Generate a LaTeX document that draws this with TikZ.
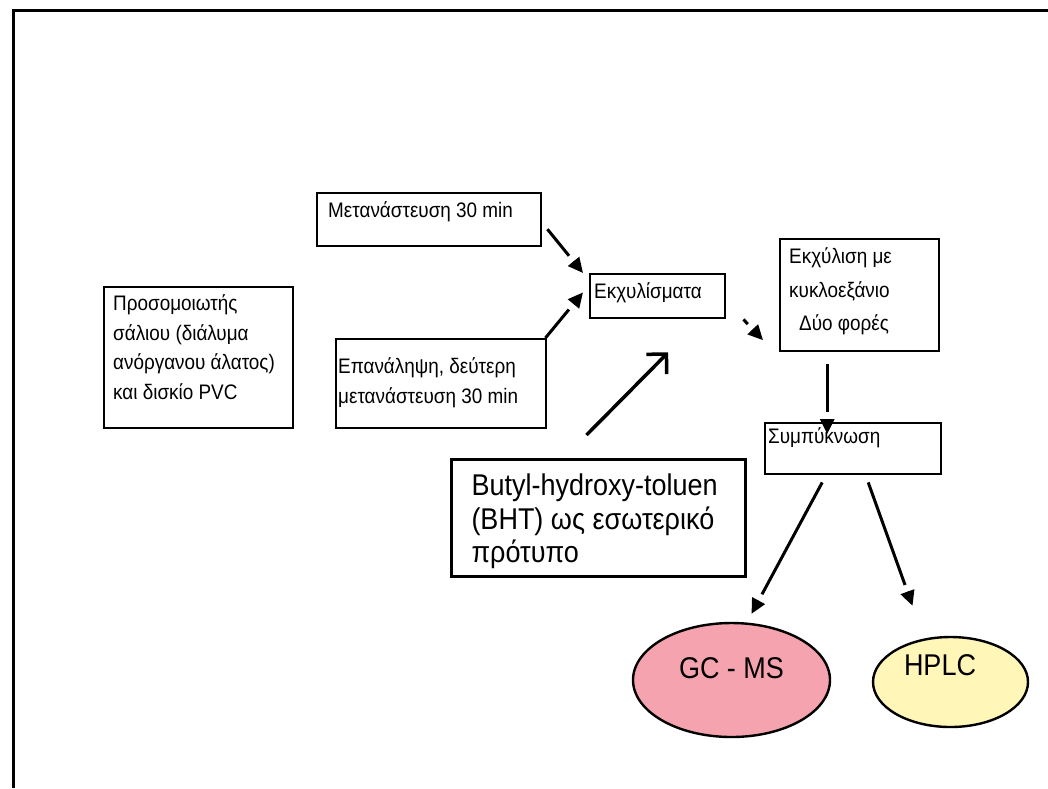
\documentclass[tikz,border=0pt]{standalone}
\usepackage{fontspec}
\setmainfont{Liberation Sans}[FakeStretch=0.9]
\usetikzlibrary{arrows.meta,shapes.geometric}
\definecolor{gcpink}{RGB}{245,163,174}
\definecolor{hplcyellow}{RGB}{255,246,184}
% box text: width, height, left pad, top pad, text
\newcommand{\boxtext}[5]{\hspace*{#3}\parbox[c][#2][t]{\dimexpr#1-#3\relax}{\vspace*{#4}\strut#5}}
\begin{document}
\begin{tikzpicture}[
		x=1pt,y=-1pt,
		box/.style={draw,line width=2.4pt,anchor=north west,inner sep=0pt,font=\fontsize{21}{29.5}\selectfont},
		oval/.style={draw,line width=2.4pt,ellipse,inner sep=0pt,font=\fontsize{30}{32}\selectfont},
		arr/.style={line width=3pt,-{Rectangle[length=7pt,width=6pt,color=white] Triangle[length=15pt,width=14pt]}},
		bigarr/.style={line width=3.5pt,-{Straight Barb[angle=90:20pt]}}
		]
		\useasboundingbox (0,0) rectangle (1048,788);
		\draw[line width=3pt] (13,788) -- (13,10) -- (1048,10);
		\node[box] (sim) at (103,286) {\boxtext{189pt}{141pt}{9pt}{3pt}{Προσομοιωτής\\σάλιου (διάλυμα\\ανόργανου άλατος)\\και δισκίο PVC}};
		\node[box] (mig1) at (316,192) {\boxtext{224pt}{53pt}{11pt}{4pt}{Μετανάστευση 30 min}};
		\node[box] (mig2) at (335,338) {\boxtext{210pt}{89pt}{2pt}{14pt}{Επανάληψη, δεύτερη\\μετανάστευση 30 min}};
		\node[box] (extr) at (589,273) {\boxtext{135pt}{44pt}{4pt}{4pt}{Εκχυλίσματα}};
		\node[box] (ekx) at (779,238) {\boxtext{159pt}{112pt}{9pt}{1pt}{\fontsize{21}{33.5}\selectfont\strut Εκχύλιση με\\κυκλοεξάνιο\\\hspace*{10pt}Δύο φορές}};
		\node[box] (symp) at (764,422) {\boxtext{176pt}{51pt}{3pt}{0pt}{Συμπύκνωση}};
		\node[box,line width=3pt,font=\fontsize{30}{33.5}\selectfont] (bht) at (450,458) {\boxtext{294pt}{117pt}{20pt}{13pt}{Butyl-hydroxy-toluen\\(BHT) ως εσωτερικό\\πρότυπο}};
		\node[oval,fill=gcpink,minimum width=197pt,minimum height=114pt] (gc) at (731.5,680) {\raisebox{2pt}[0pt][0pt]{GC - MS}};
		\node[oval,fill=hplcyellow,minimum width=155pt,minimum height=90pt] (hplc) at (950.5,682) {\raisebox{7pt}[0pt][0pt]{HPLC}\hspace*{21pt}};
		\draw[arr] ([xshift=5pt,yshift=-9.5pt]mig1.east) -- ([xshift=-6pt]extr.north west);
		\draw[arr] ([xshift=-2pt]mig2.north east) -- ([xshift=-6pt,yshift=27pt]extr.south west);
		\draw[bigarr] ([xshift=-12pt,yshift=23pt]bht.north) -- ([xshift=10.5pt,yshift=-33pt]extr.south);
		\draw[arr] ([xshift=17pt]extr.south east) -- ([xshift=-16pt,yshift=-45pt]ekx.west);
		\draw[arr] ([xshift=-32.5pt,yshift=-12pt]ekx.south) -- ([xshift=-32.5pt,yshift=-12pt]ekx.south |- symp.north);
		\draw[arr] ([xshift=-31pt,yshift=-7pt]symp.south) -- ([xshift=20pt,yshift=8pt]gc.north);
		\draw[arr] ([xshift=15pt,yshift=-7pt]symp.south) -- ([xshift=-38pt,yshift=30pt]hplc.north);
	\end{tikzpicture}
\end{document}
